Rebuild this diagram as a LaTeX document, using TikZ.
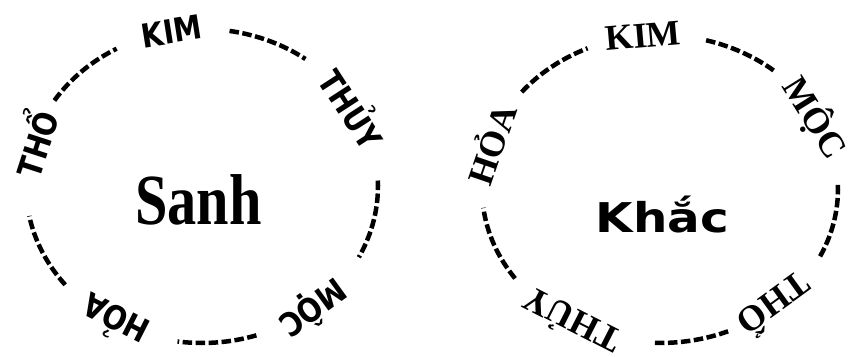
\documentclass[tikz,border=0pt]{standalone}
\usepackage{fontspec}
\setmainfont{Liberation Serif}
\newfontfamily\dejavu{DejaVu Sans}
\begin{document}
\begin{tikzpicture}[x=1pt,y=1pt,
    tratto/.style={line width=4.5pt, dash pattern=on 9.5pt off 3.5pt},
    nomeA/.style={font=\dejavu\bfseries\fontsize{33}{33}\selectfont, xscale=0.86, inner sep=0pt},
    nomeB/.style={font=\bfseries\fontsize{36}{36}\selectfont, inner sep=0pt}]

        % Area del disegno
        \useasboundingbox (0,0) rectangle (851,356);

        % Centri delle due ellissi
        \coordinate (cA) at (202,170);
        \coordinate (cB) at (660,167);

        % Ellisse di sinistra: archi tratteggiati
        \draw[tratto] ([shift={(147:176 and 157)}]cA) arc[start angle=147, end angle=119, x radius=176, y radius=157];
        \draw[tratto] ([shift={(81:176 and 157)}]cA) arc[start angle=81, end angle=54, x radius=176, y radius=157];
        \draw[tratto] ([shift={(2:176 and 157)}]cA) arc[start angle=2, end angle=-27, x radius=176, y radius=157];
        \draw[tratto] ([shift={(-72:176 and 157)}]cA) arc[start angle=-72, end angle=-98, x radius=176, y radius=157];
        \draw[tratto] ([shift={(-141:176 and 157)}]cA) arc[start angle=-141, end angle=-169, x radius=176, y radius=157];

        % Nomi lungo l'ellisse di sinistra
        \node[rotate=9, nomeA] (kimA) at ([shift={(100:176 and 157)}]cA) {KIM};
        \node[rotate=-57, nomeA] (thuyA) at ([shift={(30:176 and 157)}]cA) {THỦY};
        \node[rotate=-144, nomeA] (mocA) at ([shift={(-51:176 and 157)}]cA) {MỘC};
        \node[rotate=153, nomeA] (hoaA) at ([shift={(-120:176 and 157)}]cA) {HỎA};
        \node[rotate=72, nomeA] (thoA) at ([shift={(164:176 and 157)}]cA) {THỔ};

        % Titolo al centro
        \node[anchor=base, inner sep=0pt, xscale=0.81, font=\bfseries\fontsize{72}{72}\selectfont] (sanh) at (198.5,131) {Sanh};

        % Ellisse di destra: archi tratteggiati
        \draw[tratto] ([shift={(141:178 and 154)}]cB) arc[start angle=141, end angle=114, x radius=178, y radius=154];
        \draw[tratto] ([shift={(75:178 and 154)}]cB) arc[start angle=75, end angle=50, x radius=178, y radius=154];
        \draw[tratto] ([shift={(1.5:178 and 154)}]cB) arc[start angle=1.5, end angle=-27, x radius=178, y radius=154];
        \draw[tratto] ([shift={(-67.5:178 and 154)}]cB) arc[start angle=-67.5, end angle=-92.6, x radius=178, y radius=154];
        \draw[tratto] ([shift={(-144.5:178 and 154)}]cB) arc[start angle=-144.5, end angle=-173, x radius=178, y radius=154];

        % Nomi lungo l'ellisse di destra
        \node[rotate=5, nomeB] (kimB) at ([shift={(95.5:178 and 154)}]cB) {KIM};
        \node[rotate=-58, nomeB] (mocB) at ([shift={(28:176 and 152)}]cB) {MỘC};
        \node[rotate=-144, nomeB] (thoB) at ([shift={(-49.5:178 and 154)}]cB) {THỔ};
        \node[rotate=153, nomeB] (thuyB) at ([shift={(-120:178 and 154)}]cB) {THỦY};
        \node[rotate=71, nomeB] (hoaB) at ([shift={(163:178 and 154)}]cB) {HỎA};

        % Titolo al centro
        \node[anchor=base, inner sep=0pt, xscale=1.18, font=\dejavu\bfseries\fontsize{41}{41}\selectfont] (khac) at (662.5,123) {Khắc};

\end{tikzpicture}
\end{document}
